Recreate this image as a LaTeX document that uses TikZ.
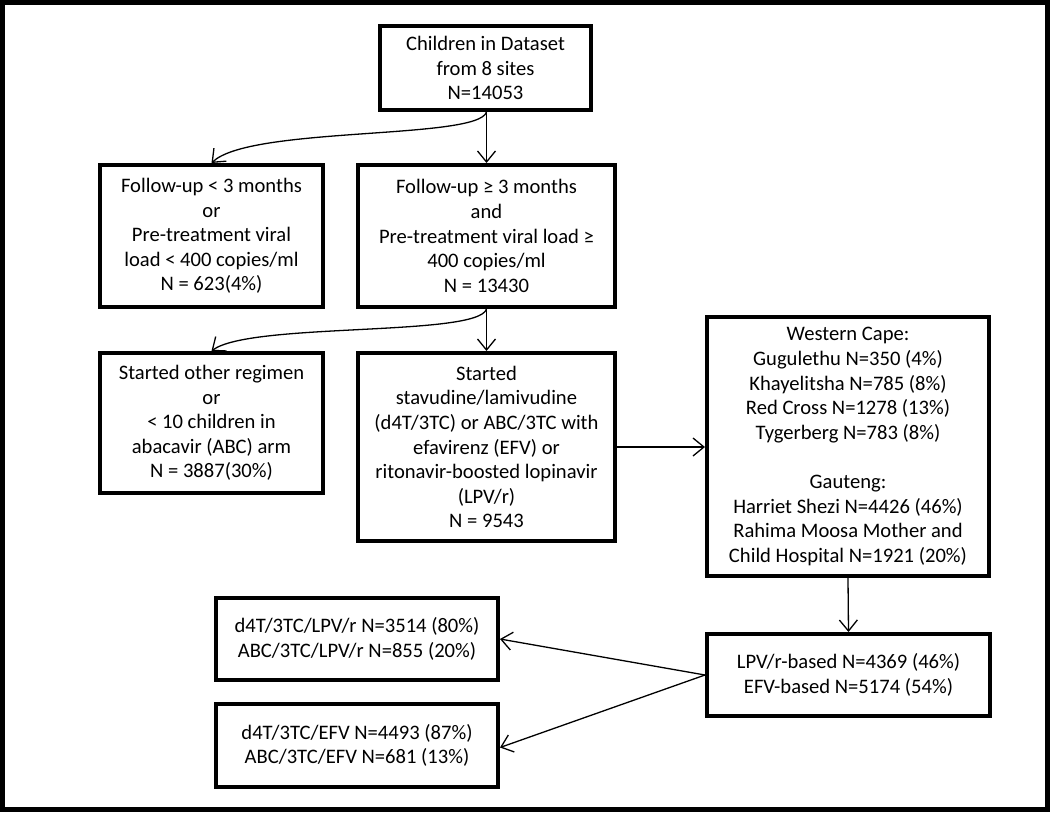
\documentclass[tikz,border=0pt]{standalone}
\usepackage{fontspec}
\setmainfont{Carlito}
\usetikzlibrary{arrows.meta}
\begin{document}
\begin{tikzpicture}[x=1pt,y=-1pt,
  box/.style={draw, line width=4pt, align=center, inner sep=0pt,
    font=\fontsize{20.6}{24.6}\selectfont},
  conn/.style={line width=1.3pt, -{Straight Barb[length=11pt,width=18pt,line width=1.3pt]}}]
\useasboundingbox (0,0) rectangle (1050,812);
\draw[line width=4.5pt] (2.5,2.5) rectangle (1047.5,809.5);

\node[box, minimum width=211, minimum height=84] (top) at (485.5,68)
  {Children in Dataset\\from 8 sites\\N=14053};
\node[box, minimum width=223, minimum height=142] (fu1) at (211.5,236)
  {Follow-up < 3 months\\or\\Pre-treatment viral\\load < 400 copies/ml\\N = 623(4\%)};
\node[box, minimum width=257, minimum height=142] (fu2) at (486.5,236)
  {Follow-up ≥ 3 months\\and\\Pre-treatment viral load ≥\\400 copies/ml\\N = 13430};
\node[box, minimum width=223, minimum height=140] (oth) at (211.5,423)
  {Started other regimen\\or\\< 10 children in\\abacavir (ABC) arm\\N = 3887(30\%)};
\node[box, minimum width=257, minimum height=188] (st) at (486.5,447)
  {Started\\stavudine/lamivudine\\(d4T/3TC) or ABC/3TC with\\efavirenz (EFV) or\\ritonavir-boosted lopinavir\\(LPV/r)\\N = 9543};
\node[box, minimum width=282, minimum height=259] (wc) at (848,446.5)
  {Western Cape:\\Gugulethu N=350 (4\%)\\Khayelitsha N=785 (8\%)\\Red Cross N=1278 (13\%)\\Tygerberg N=783 (8\%)\\[24.6pt]Gauteng:\\Harriet Shezi N=4426 (46\%)\\Rahima Moosa Mother and\\Child Hospital N=1921 (20\%)};
\node[box, minimum width=283, minimum height=82] (lpv) at (848.5,675)
  {LPV/r-based N=4369 (46\%)\\EFV-based N=5174 (54\%)};
\node[box, minimum width=282, minimum height=82] (rl) at (357,639)
  {d4T/3TC/LPV/r N=3514 (80\%)\\ABC/3TC/LPV/r N=855 (20\%)};
\node[box, minimum width=282, minimum height=83] (re) at (357,745.5)
  {d4T/3TC/EFV N=4493 (87\%)\\ABC/3TC/EFV N=681 (13\%)};

\coordinate (topb) at (top.south -| fu2.north);
\draw[conn] (topb) -- (fu2.north);
\draw[conn] (topb) .. controls (478,140) and (250,126) .. (fu1.north);
\coordinate (fu2b) at (fu2.south);
\draw[conn] (fu2b) -- (st.north);
\draw[conn] (fu2b) .. controls (478,337) and (250,322) .. (oth.north);
\draw[conn] (st.east) -- (wc.west |- st.east);
\draw[conn] (wc.south) -- (lpv.north);
\draw[conn] (lpv.west) -- (rl.east);
\draw[conn] (lpv.west) -- ([yshift=-2pt]re.east);
\end{tikzpicture}
\end{document}
